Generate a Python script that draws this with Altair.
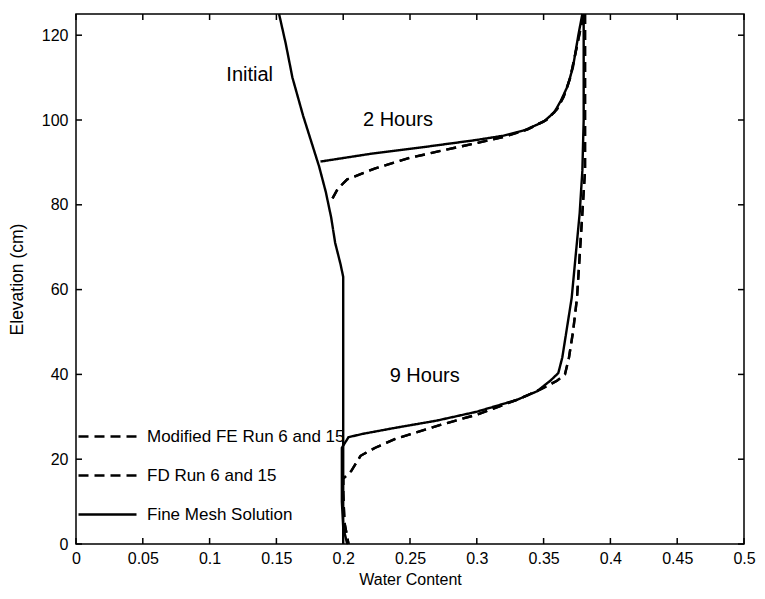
import altair as alt
import pandas as pd

# ---- data ----
initial_wc = [0.152, 0.157, 0.162, 0.170, 0.177, 0.182, 0.187, 0.191, 0.194, 0.198, 0.200, 0.200]
initial_el = [125, 118, 110, 101, 94, 89, 83, 77, 71, 66, 63, 0]

h2_fine_wc = [0.183, 0.220, 0.260, 0.300, 0.320, 0.336, 0.350, 0.358, 0.363, 0.368, 0.372, 0.376, 0.379]
h2_fine_el = [90.2, 92.0, 93.6, 95.3, 96.3, 97.6, 99.6, 101.8, 104.6, 108, 112.5, 120, 125]

h2_dash_wc = [0.192, 0.196, 0.203, 0.224, 0.249, 0.274, 0.299, 0.320, 0.338, 0.352, 0.360, 0.365, 0.370, 0.374, 0.378, 0.380]
h2_dash_el = [81.5, 83.8, 86.0, 88.6, 91.0, 92.8, 94.5, 96.0, 97.8, 100, 102.5, 105.5, 110, 116, 122, 125]

h9_fine_wc = [0.380, 0.380, 0.379, 0.377, 0.374, 0.371, 0.367, 0.364, 0.361, 0.355, 0.345, 0.330, 0.300, 0.270, 0.239, 0.215, 0.204, 0.199, 0.199, 0.200, 0.203]
h9_fine_el = [125, 100, 88, 78, 68, 58, 50, 44, 40.3, 38.5, 36, 34, 31.2, 29.1, 27.4, 26, 25.2, 22.7, 10, 4, 0]

h9_dash_wc = [0.381, 0.381, 0.381, 0.379, 0.377, 0.375, 0.372, 0.369, 0.366, 0.360, 0.348, 0.330, 0.300, 0.274, 0.239, 0.224, 0.213, 0.206, 0.200, 0.200, 0.201, 0.204]
h9_dash_el = [125, 100, 88, 78, 68, 58, 50, 44, 40, 38.5, 36.5, 34, 30.5, 28.2, 24.8, 22.7, 20.8, 17.2, 15.4, 12, 5, 0]

series_names = ["Modified FE Run 6 and 15", "FD Run 6 and 15", "Fine Mesh Solution"]

label_texts = ["Initial", "2 Hours", "9 Hours"]
label_wc = [0.130, 0.241, 0.261]
label_el = [110.6, 99.9, 39.7]

x_ticks = [0, 0.05, 0.1, 0.15, 0.2, 0.25, 0.3, 0.35, 0.4, 0.45, 0.5]
y_ticks = [0, 20, 40, 60, 80, 100, 120]

rows = []
def add(series, curve, xs, ys):
    for i, (x, y) in enumerate(zip(xs, ys)):
        rows.append({"series": series, "curve": curve, "idx": i, "wc": x, "el": y})

add(series_names[2], "initial", initial_wc, initial_el)
add(series_names[2], "h2", h2_fine_wc, h2_fine_el)
add(series_names[0], "h2", h2_dash_wc, h2_dash_el)
add(series_names[1], "h2", h2_dash_wc, h2_dash_el)
add(series_names[2], "h9", h9_fine_wc, h9_fine_el)
add(series_names[0], "h9", h9_dash_wc, h9_dash_el)
add(series_names[1], "h9", h9_dash_wc, h9_dash_el)
df = pd.DataFrame(rows)

labels_df = pd.DataFrame({"text": label_texts, "wc": label_wc, "el": label_el})
xt_df = pd.DataFrame({"wc": x_ticks})
yt_df = pd.DataFrame({"el": y_ticks})

W, H = 668, 530
TL = 6  # inward tick length
FONT = "Liberation Sans"
xscale = alt.Scale(domain=[0, 0.5], nice=False, zero=False)
yscale = alt.Scale(domain=[0, 125], nice=False, zero=False)

x_axis = alt.Axis(title="Water Content", values=x_ticks, format="~g", ticks=False,
                  labelPadding=6, titlePadding=5, domain=False, grid=False, labelFlush=False,
                  labelFontSize=16, titleFontSize=16,
                  labelFont=FONT, titleFont=FONT, labelColor="black", titleColor="black",
                  titleFontWeight="normal")
y_axis = alt.Axis(title="Elevation (cm)", values=y_ticks, ticks=False,
                  labelPadding=8, titlePadding=15, domain=False, grid=False, labelFlush=False,
                  labelFontSize=16, titleFontSize=17.5,
                  labelFont=FONT, titleFont=FONT, labelColor="black", titleColor="black",
                  titleFontWeight="normal")

lines = alt.Chart(df).mark_line(strokeWidth=2.4, color="black").encode(
    x=alt.X("wc:Q", scale=xscale, axis=x_axis),
    y=alt.Y("el:Q", scale=yscale, axis=y_axis),
    strokeDash=alt.StrokeDash("series:N",
        scale=alt.Scale(domain=series_names, range=[[10, 6], [10, 6], [1, 0]]),
        legend=alt.Legend(title=None, orient="none", legendX=1, legendY=392,
                          symbolType="stroke", symbolSize=3364, symbolStrokeWidth=2.4,
                          symbolStrokeColor="black", labelFontSize=17, labelFont=FONT,
                          labelColor="black", rowPadding=-33, padding=0, labelOffset=9,
                          labelLimit=400)),
    detail="curve:N",
    order="idx:Q",
)

texts = alt.Chart(labels_df).mark_text(fontSize=20, font=FONT, color="black").encode(
    x=alt.X("wc:Q", scale=xscale, axis=x_axis),
    y=alt.Y("el:Q", scale=yscale, axis=y_axis),
    text="text:N",
)

tick_style = dict(color="black", strokeWidth=1.5)
ticks_bottom = alt.Chart(xt_df).mark_rule(**tick_style).encode(
    x=alt.X("wc:Q", scale=xscale, axis=x_axis), y=alt.value(H), y2=alt.value(H - TL))
ticks_top = alt.Chart(xt_df).mark_rule(**tick_style).encode(
    x=alt.X("wc:Q", scale=xscale, axis=x_axis), y=alt.value(0), y2=alt.value(TL))
ticks_left = alt.Chart(yt_df).mark_rule(**tick_style).encode(
    y=alt.Y("el:Q", scale=yscale, axis=y_axis), x=alt.value(0), x2=alt.value(TL))
ticks_right = alt.Chart(yt_df).mark_rule(**tick_style).encode(
    y=alt.Y("el:Q", scale=yscale, axis=y_axis), x=alt.value(W), x2=alt.value(W - TL))

chart = alt.layer(lines, texts, ticks_bottom, ticks_top, ticks_left, ticks_right).properties(
    width=W, height=H, background="white",
    padding={"left": 0, "top": 1, "right": 0, "bottom": 0},
).configure_view(stroke="black", strokeWidth=1.5)

chart.save("out.html", embed_options={"renderer": "svg", "actions": False})
